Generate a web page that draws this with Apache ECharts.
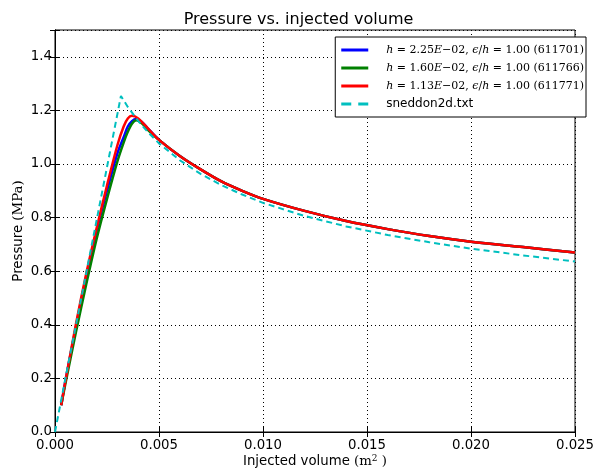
<!DOCTYPE html>
<html><head><meta charset="utf-8">
<script src="https://cdn.jsdelivr.net/npm/echarts@6/dist/echarts.min.js"></script>
<style>html,body{margin:0;padding:0;background:#fff}#c{width:597px;height:469px}</style>
</head><body><div id="c"></div>
<script>
var xTicks = [0, 0.005, 0.010, 0.015, 0.020, 0.025];
var yTicks = [0, 0.2, 0.4, 0.6, 0.8, 1.0, 1.2, 1.4];

var blueX  = [0.0003,0.0005,0.0010,0.0015,0.0020,0.0025,0.0030,0.0033,0.0035,0.0037,0.0039,0.0042,0.0045,0.0050,0.0060,0.0070,0.0080,0.0090,0.0100,0.0120,0.0140,0.0160,0.0180,0.0200,0.0225,0.0250];
var blueY  = [0.10,0.19,0.39,0.58,0.75,0.90,1.04,1.10,1.14,1.16,1.168,1.155,1.13,1.09,1.03,0.98,0.935,0.90,0.87,0.825,0.787,0.757,0.731,0.710,0.690,0.670];
var greenX = [0.0003,0.0005,0.0010,0.0015,0.0020,0.0025,0.0030,0.0033,0.0035,0.0037,0.0039,0.0042,0.0045,0.0050,0.0060,0.0070,0.0080,0.0090,0.0100,0.0120,0.0140,0.0160,0.0180,0.0200,0.0225,0.0250];
var greenY = [0.10,0.18,0.37,0.55,0.72,0.87,1.01,1.08,1.12,1.15,1.163,1.15,1.125,1.09,1.03,0.98,0.935,0.90,0.87,0.825,0.787,0.757,0.731,0.710,0.690,0.670];
var redX   = [0.0003,0.0005,0.0010,0.0015,0.0020,0.0025,0.0030,0.0033,0.0035,0.0037,0.0040,0.0045,0.0050,0.0060,0.0070,0.0080,0.0090,0.0100,0.0120,0.0140,0.0160,0.0180,0.0200,0.0225,0.0250];
var redY   = [0.10,0.19,0.40,0.59,0.76,0.92,1.07,1.14,1.17,1.18,1.17,1.13,1.09,1.03,0.98,0.935,0.90,0.87,0.825,0.787,0.757,0.731,0.710,0.690,0.670];
var sneddonX = [0,0.0005,0.0010,0.0020,0.00317,0.0035,0.0040,0.0045,0.0050,0.0060,0.0070,0.0080,0.0090,0.0100,0.0120,0.0140,0.0160,0.0180,0.0200,0.0225,0.0250];
var sneddonY = [0,0.20,0.396,0.79,1.254,1.213,1.161,1.116,1.077,1.014,0.963,0.921,0.886,0.855,0.806,0.767,0.735,0.708,0.684,0.659,0.636];

var names = ['h=2.25E-02, eps/h=1.00 (611701)','h=1.60E-02, eps/h=1.00 (611766)','h=1.13E-02, eps/h=1.00 (611771)','sneddon2d.txt'];
var legendRich = {};
legendRich[names[0]] = '{p|}{i|h}{n| = 2.25}{i|E}{n|−02, }{i|ϵ}{n|/}{i|h}{n| = 1.00 (611701)}';
legendRich[names[1]] = '{p|}{i|h}{n| = 1.60}{i|E}{n|−02, }{i|ϵ}{n|/}{i|h}{n| = 1.00 (611766)}';
legendRich[names[2]] = '{p|}{i|h}{n| = 1.13}{i|E}{n|−02, }{i|ϵ}{n|/}{i|h}{n| = 1.00 (611771)}';
legendRich[names[3]] = '{p|}{s|sneddon2d.txt}';

function zip(a,b){return a.map(function(v,i){return [v,b[i]];});}

var chart = echarts.init(document.getElementById('c'));
var font = 'DejaVu Sans';
var axisCommon = {
  axisLine:{show:true,lineStyle:{color:'#000',width:1}},
  axisTick:{show:true,inside:true,length:5,lineStyle:{color:'#000'}}
};
var solidIcon = 'rect';
var dashIcon = 'path://M0,0h10v3h-10z M17,0h10v3h-10z';
chart.setOption({
  animation:false,
  backgroundColor:'#fff',
  title:{text:'Pressure vs. injected volume',left:'center',top:7,
    textStyle:{fontFamily:font,fontSize:16,fontWeight:'normal',color:'#000'}},
  grid:{left:55,right:22,top:30,bottom:37,show:true,borderColor:'#000',borderWidth:1,
    containLabel:false,outerBoundsMode:'none'},
  legend:{
    orient:'vertical',right:11,top:37,
    backgroundColor:'#fff',borderColor:'#000',borderWidth:1,borderRadius:0,
    padding:[7,2,7,6],itemGap:6,itemWidth:27,itemHeight:3,
    data:[{name:names[0],icon:solidIcon},{name:names[1],icon:solidIcon},
          {name:names[2],icon:solidIcon},{name:names[3],icon:dashIcon}],
    formatter:function(n){return legendRich[n];},
    textStyle:{color:'#000',
      rich:{
        p:{width:13},
        i:{fontFamily:'DejaVu Serif',fontStyle:'italic',fontSize:11,color:'#000'},
        n:{fontFamily:'DejaVu Serif',fontSize:11,color:'#000'},
        s:{fontFamily:font,fontSize:12,color:'#000'}
      }}
  },
  xAxis:[Object.assign({type:'value',min:xTicks[0],max:xTicks[xTicks.length-1],interval:0.005,
    name:'{a|Injected volume }{b|(m}{c|2}{b| )}',nameLocation:'middle',nameGap:22,nameMoveOverlap:false,
    nameTextStyle:{fontFamily:font,fontSize:13,color:'#000',
      rich:{a:{fontFamily:font,fontSize:13.3,color:'#000'},
            b:{fontFamily:'DejaVu Serif',fontSize:13.3,color:'#000'},
            c:{fontFamily:'DejaVu Serif',fontSize:9,color:'#000',verticalAlign:'top',padding:[0,0,6,0]}}},
    axisLabel:{fontFamily:font,fontSize:13.3,color:'#000',margin:7,formatter:function(v){return v.toFixed(3);}},
    splitLine:{show:true,lineStyle:{color:'#000',type:[1,3],width:1}}},axisCommon),
    Object.assign({type:'value',position:'top',min:xTicks[0],max:xTicks[xTicks.length-1],interval:0.005,
    axisLabel:{show:false},splitLine:{show:false}},axisCommon)],
  yAxis:[Object.assign({type:'value',min:yTicks[0],max:1.5,interval:0.2,
    name:'{a|Pressure }{b|(MPa)}',nameLocation:'middle',nameGap:30,nameMoveOverlap:false,
    nameTextStyle:{fontFamily:font,fontSize:13,color:'#000',
      rich:{a:{fontFamily:font,fontSize:13.3,color:'#000'},
            b:{fontFamily:'DejaVu Serif',fontSize:13.3,color:'#000'}}},
    axisLabel:{fontFamily:font,fontSize:13.3,color:'#000',margin:3,
      formatter:function(v){return Math.abs(v/0.2-Math.round(v/0.2))<1e-6 ? v.toFixed(1) : '';}},
    splitLine:{show:true,lineStyle:{color:'#000',type:[1,3],width:1}}},axisCommon),
    Object.assign({type:'value',position:'right',min:yTicks[0],max:1.5,interval:0.2,
    axisLabel:{show:false},splitLine:{show:false}},axisCommon)],
  series:[
    {name:names[0],type:'line',data:zip(blueX,blueY),symbol:'none',smooth:0.3,
      lineStyle:{color:'#0000ff',width:2.5},itemStyle:{color:'#0000ff'}},
    {name:names[1],type:'line',data:zip(greenX,greenY),symbol:'none',smooth:0.3,
      lineStyle:{color:'#008000',width:2.5},itemStyle:{color:'#008000'}},
    {name:names[2],type:'line',data:zip(redX,redY),symbol:'none',smooth:0.3,
      lineStyle:{color:'#ff0000',width:2.5},itemStyle:{color:'#ff0000'}},
    {name:names[3],type:'line',data:zip(sneddonX,sneddonY),symbol:'none',
      lineStyle:{color:'#00bfbf',width:2,type:[6,4]},itemStyle:{color:'#00bfbf'}}
  ]
});
</script></body></html>
